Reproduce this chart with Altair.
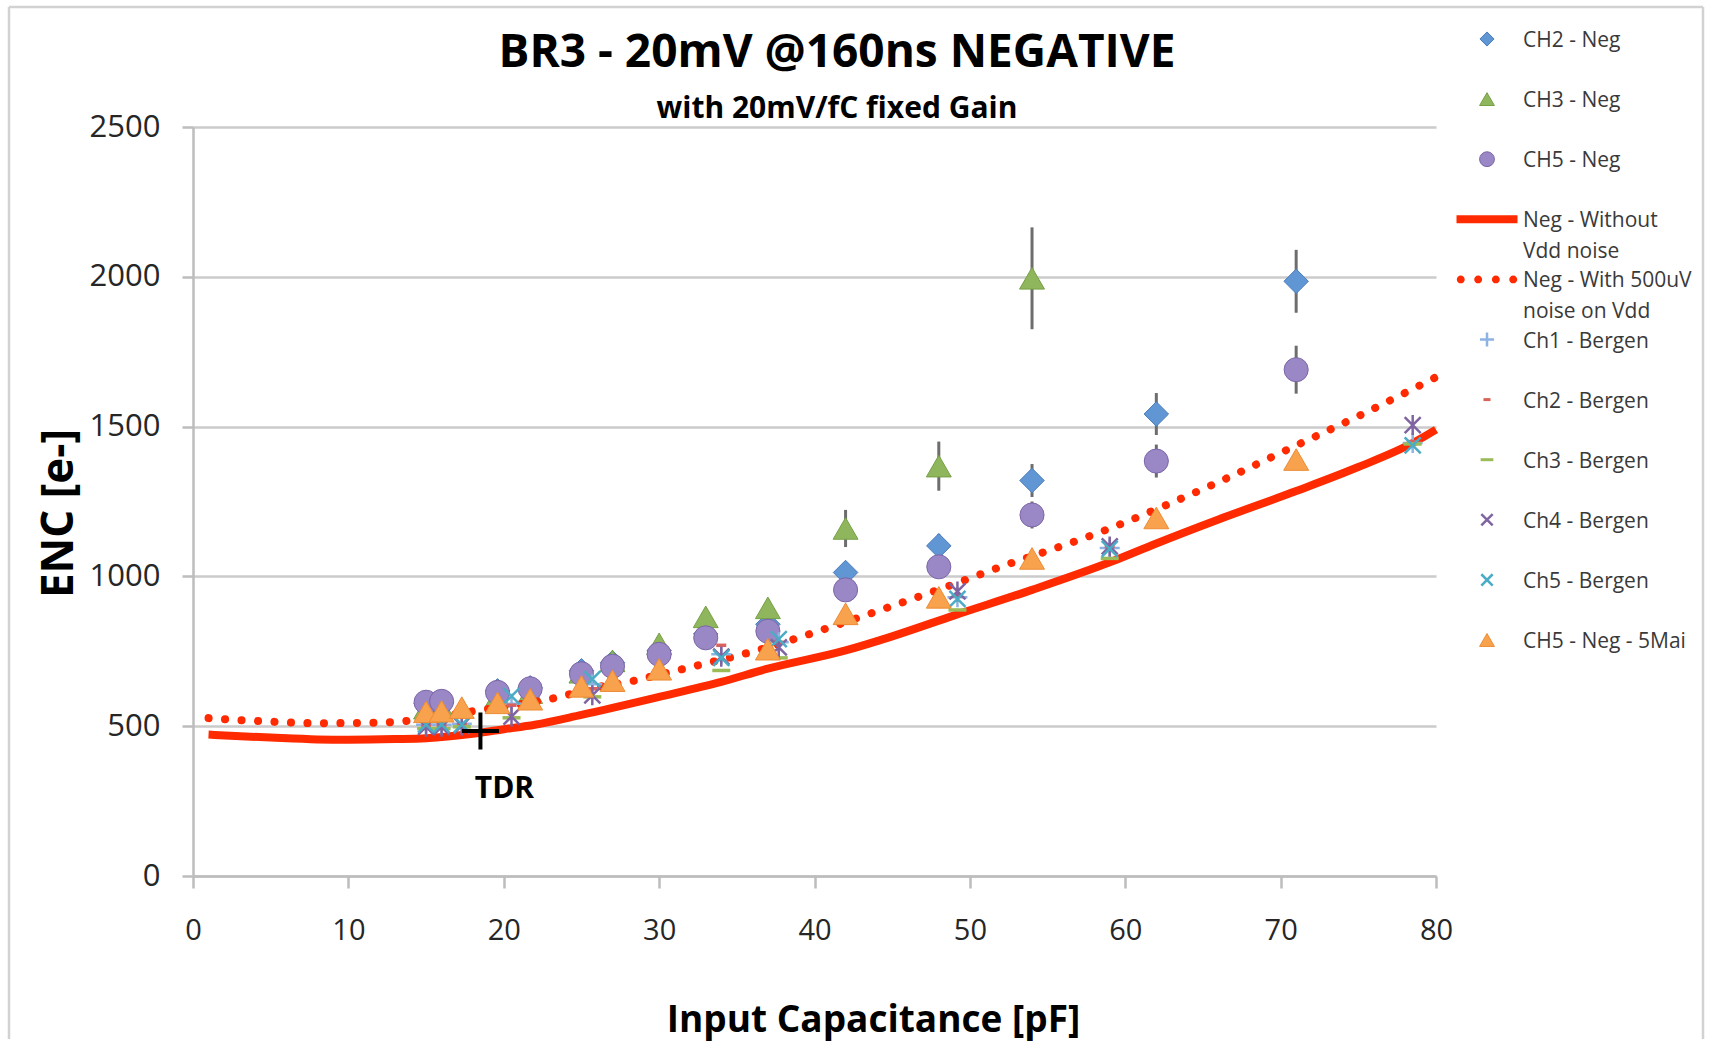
import altair as alt
import pandas as pd

# ---------------- data ----------------
x_neg = [15, 16, 19.6, 21.7, 25, 27, 30, 33, 37, 42, 48, 54, 62, 71]
ch2_neg = [575, 578, 618, 628, 685, 712, 752, 808, 840, 1013, 1102, 1320, 1542, 1985]
ch2_err = [15, 15, 18, 18, 20, 20, 22, 25, 30, 35, 40, 55, 70, 105]

x_ch3 = [15, 16, 19.6, 21.7, 25, 27, 30, 33, 37, 42, 48, 54]
ch3_neg = [560, 562, 600, 612, 680, 718, 775, 865, 895, 1160, 1368, 1995]
ch3_err = [15, 15, 18, 18, 20, 22, 25, 28, 30, 62, 82, 170]

ch5_neg = [580, 583, 613, 625, 675, 700, 740, 795, 817, 955, 1032, 1205, 1385, 1690]
ch5_err = [12, 12, 14, 14, 16, 16, 18, 20, 22, 28, 32, 45, 55, 80]

x_mai = [15, 16, 17.3, 19.6, 21.7, 25, 27, 30, 37, 42, 48, 54, 62, 71]
ch5_mai = [548, 550, 562, 578, 590, 633, 652, 690, 757, 875, 930, 1060, 1195, 1390]

x_bergen = [15, 16, 17.3, 20.5, 25.7, 34, 37.7, 49.2, 59, 78.5]
ch1_bergen = [505, 505, 508, 575, 640, 740, 780, 930, 1095, 1445]
ch2_bergen = [500, 500, 505, 570, 625, 770, 780, 935, 1100, 1450]
ch3_bergen = [492, 492, 498, 528, 598, 686, 728, 888, 1060, 1442]
ch4_bergen = [498, 498, 502, 532, 603, 732, 763, 950, 1100, 1505]
ch5_bergen = [505, 505, 505, 600, 657, 728, 791, 925, 1092, 1437]

x_without = [1, 5, 8, 10, 13, 15, 18, 20, 22, 25, 30, 34, 37, 42, 45, 49, 54, 59, 62, 66, 71, 75, 78.5, 80]
enc_without = [472, 462, 456, 455, 457, 460, 475, 490, 505, 538, 598, 648, 692, 753, 800, 870, 955, 1047, 1110, 1190, 1285, 1365, 1445, 1490]

x_with = [1, 5, 8, 12, 15, 18, 20, 23, 26, 28.4, 30, 32.5, 36.5, 40.7, 44.6, 48.7, 52.8, 55, 59, 62.5, 66, 71, 75, 80]
enc_with = [527, 515, 510, 512, 525, 550, 565, 591, 630, 652, 672, 703, 756, 825, 894, 969, 1047, 1085, 1160, 1235, 1315, 1437, 1535, 1665]

tdr_x = [18.5]
tdr_y = [484]
tdr_label = ["TDR"]

title_text = ["BR3 - 20mV @160ns NEGATIVE"]
subtitle_text = ["with 20mV/fC fixed Gain"]

legend_keys = ["ch2", "ch3", "ch5", "without", "with", "b1", "b2", "b3", "b4", "b5", "mai"]
legend_names = ["CH2 - Neg", "CH3 - Neg", "CH5 - Neg", "Neg - Without\nVdd noise",
                "Neg - With 500uV\nnoise on Vdd", "Ch1 - Bergen", "Ch2 - Bergen",
                "Ch3 - Bergen", "Ch4 - Bergen", "Ch5 - Bergen", "CH5 - Neg - 5Mai"]

x_ticks = [0, 10, 20, 30, 40, 50, 60, 70, 80]
y_ticks = [0, 500, 1000, 1500, 2000, 2500]

# ---------------- tables ----------------
df_ch2 = pd.DataFrame({"x": x_neg, "y": ch2_neg, "e": ch2_err})
df_ch3 = pd.DataFrame({"x": x_ch3, "y": ch3_neg, "e": ch3_err})
df_ch5 = pd.DataFrame({"x": x_neg, "y": ch5_neg, "e": ch5_err})
df_mai = pd.DataFrame({"x": x_mai, "y": ch5_mai})
df_b = {k: pd.DataFrame({"x": x_bergen, "y": v}) for k, v in
        [("b1", ch1_bergen), ("b2", ch2_bergen), ("b3", ch3_bergen), ("b4", ch4_bergen), ("b5", ch5_bergen)]}
df_without = pd.DataFrame({"x": x_without, "y": enc_without})
df_with = pd.DataFrame({"x": x_with, "y": enc_with})
df_tdr = pd.DataFrame({"x": tdr_x, "y": tdr_y, "label": tdr_label})
df_leg = pd.DataFrame({"key": legend_keys, "name": legend_names})
df_title = pd.DataFrame({"t": title_text})
df_sub = pd.DataFrame({"t": subtitle_text})
df_one = pd.DataFrame({"k": [0]})

FONT = "Open Sans"
xs = alt.Scale(domain=[0, 80], nice=False, zero=False)
ys = alt.Scale(domain=[0, 2500], nice=False, zero=True)

X_ax = alt.X("x:Q", scale=xs, axis=alt.Axis(
    values=x_ticks, title="Input Capacitance [pF]", grid=False, labelFlush=False,
    labelFontSize=29, labelPadding=28, titlePadding=57, tickSize=12, titleFontSize=37,
    titleX=680))
Y_ax = alt.Y("y:Q", scale=ys, axis=alt.Axis(
    values=y_ticks, format="d", title="ENC [e-]", grid=True, labelFontSize=31,
    labelPadding=22, titlePadding=8, tickSize=11, titleFontSize=44, titleY=386))
Xn = alt.X("x:Q", scale=xs, axis=None)
Yn = alt.Y("y:Q", scale=ys, axis=None)

ERR = "#6d6d6d"
RED = "#ff2a00"
PLUS = "M-1,0H1M0,-1V1"
DASH_S = "M-0.5,0H0.5"
DASH_L = "M-0.9,0H0.9"
XMARK = "M-0.8,-0.8L0.8,0.8M-0.8,0.8L0.8,-0.8"
STAR = "M-0.8,-0.8L0.8,0.8M-0.8,0.8L0.8,-0.8M0,-1V1"

C_CH2 = ("#6196d4", "#4a7dbb")
C_CH3 = ("#8fb65c", "#76a044")
C_CH5 = ("#9a87c6", "#7b66a6")
C_MAI = ("#f9a24d", "#ec8b33")
C_B1, C_B2, C_B3, C_B4, C_B5 = "#8db3e2", "#d9625c", "#9bbb59", "#8064a2", "#4bacc6"


def errbars(df):
    return alt.Chart(df).transform_calculate(
        lo="datum.y - datum.e", hi="datum.y + datum.e"
    ).mark_rule(color=ERR, strokeWidth=3).encode(
        x=Xn, y=alt.Y("lo:Q", scale=ys, axis=None), y2="hi:Q")


def filled(df, shape, fill, stroke, size=560):
    return alt.Chart(df).mark_point(shape=shape, filled=True, size=size, fill=fill,
                                    stroke=stroke, strokeWidth=1, opacity=1).encode(x=Xn, y=Yn)


def stroked(df, shape, color, size=400, sw=2.5):
    return alt.Chart(df).mark_point(shape=shape, filled=False, size=size, stroke=color,
                                    strokeWidth=sw, opacity=1).encode(x=Xn, y=Yn)


layers = [
    # solid line carries the axes
    alt.Chart(df_without).mark_line(color=RED, strokeWidth=8, interpolate="monotone").encode(x=X_ax, y=Y_ax),
    errbars(df_ch2),
    filled(df_ch2, "diamond", *C_CH2, size=600),
    errbars(df_ch3),
    filled(df_ch3, "triangle-up", *C_CH3, size=620),
    errbars(df_ch5),
    filled(df_ch5, "circle", *C_CH5, size=580),
    alt.Chart(df_with).mark_line(color=RED, strokeWidth=8, strokeDash=[0.1, 16.4], strokeCap="round",
                                 interpolate="monotone").encode(x=Xn, y=Yn),
    stroked(df_b["b1"], PLUS, C_B1),
    stroked(df_b["b2"], DASH_S, C_B2, sw=3.5),
    stroked(df_b["b3"], DASH_L, C_B3, sw=3.5),
    stroked(df_b["b4"], STAR, C_B4),
    stroked(df_b["b5"], XMARK, C_B5),
    filled(df_mai, "triangle-up", *C_MAI, size=620),
    alt.Chart(df_tdr).mark_point(shape=PLUS, filled=False, size=1369, stroke="black",
                                 strokeWidth=4, opacity=1).encode(x=Xn, y=Yn),
    alt.Chart(df_tdr).mark_text(font=FONT, fontSize=30, fontWeight="bold", color="black",
                                dx=24, dy=58).encode(x=Xn, y=Yn, text="label:N"),
]

# ---------------- legend (own point scale on the legend names) ----------------
Yl = alt.Y("name:N", scale=alt.Scale(type="point", domain=legend_names, range=[-88, 513], padding=0),
           axis=None)
LX = alt.value(1294)


def leg(key, mark):
    return alt.Chart(df_leg).transform_filter(alt.datum.key == key).mark_point(**mark).encode(x=LX, y=Yl)


def dots_path():
    r = 0.13
    parts = []
    for cx in [-0.86, -0.29, 0.29, 0.86]:
        parts.append(f"M{cx - r:.3f},0a{r},{r} 0 1,0 {2 * r:.3f},0a{r},{r} 0 1,0 {-2 * r:.3f},0Z")
    return "".join(parts)


layers += [
    leg("ch2", dict(shape="diamond", filled=True, size=200, fill=C_CH2[0], stroke=C_CH2[1], strokeWidth=1, opacity=1)),
    leg("ch3", dict(shape="triangle-up", filled=True, size=220, fill=C_CH3[0], stroke=C_CH3[1], strokeWidth=1, opacity=1)),
    leg("ch5", dict(shape="circle", filled=True, size=220, fill=C_CH5[0], stroke=C_CH5[1], strokeWidth=1, opacity=1)),
    leg("without", dict(shape="M-1,-0.13H1V0.13H-1Z", filled=True, size=3721, fill=RED, strokeWidth=0, opacity=1)),
    leg("with", dict(shape=dots_path(), filled=True, size=3721, fill=RED, strokeWidth=0, opacity=1)),
    leg("b1", dict(shape=PLUS, filled=False, size=200, stroke=C_B1, strokeWidth=2.5, opacity=1)),
    leg("b2", dict(shape=DASH_S, filled=False, size=200, stroke=C_B2, strokeWidth=3, opacity=1)),
    leg("b3", dict(shape=DASH_L, filled=False, size=200, stroke=C_B3, strokeWidth=3, opacity=1)),
    leg("b4", dict(shape=XMARK, filled=False, size=200, stroke=C_B4, strokeWidth=2.5, opacity=1)),
    leg("b5", dict(shape=XMARK, filled=False, size=200, stroke=C_B5, strokeWidth=2.5, opacity=1)),
    leg("mai", dict(shape="triangle-up", filled=True, size=220, fill=C_MAI[0], stroke=C_MAI[1], strokeWidth=1, opacity=1)),
    alt.Chart(df_leg).mark_text(font=FONT, fontSize=21, color="#3a3a3a", align="left", baseline="alphabetic",
                                dy=8, lineBreak="\n", lineHeight=31).encode(x=alt.value(1330), y=Yl, text="name:N"),
]

# ---------------- title texts and outer frame ----------------
FR = "#d2d2d2"
layers += [
    alt.Chart(df_title).mark_text(font=FONT, fontSize=46, fontWeight="bold", color="black",
                                  baseline="middle").encode(x=alt.value(644), y=alt.value(-74), text="t:N"),
    alt.Chart(df_sub).mark_text(font=FONT, fontSize=30, fontWeight="bold", color="black",
                                baseline="middle").encode(x=alt.value(644), y=alt.value(-18), text="t:N"),
    alt.Chart(df_one).mark_rule(color=FR, strokeWidth=2.5).encode(x=alt.value(-184), y=alt.value(-120), y2=alt.value(912)),
    alt.Chart(df_one).mark_rule(color=FR, strokeWidth=2.5).encode(x=alt.value(-184), x2=alt.value(1510), y=alt.value(-120)),
    alt.Chart(df_one).mark_rule(color=FR, strokeWidth=2.5).encode(x=alt.value(1510), y=alt.value(-120), y2=alt.value(912)),
]

chart = alt.layer(*layers).resolve_scale(x="independent", y="independent").properties(
    width=1243, height=749,
    padding={"left": 7, "top": 5, "right": 0, "bottom": 0},
).configure_view(stroke=None).configure_axis(
    labelFont=FONT, labelFontSize=30, labelColor="#262626",
    titleFont=FONT, titleFontSize=38, titleFontWeight="bold", titleColor="black",
    domainColor="#bdbdbd", domainWidth=2.5, tickColor="#bdbdbd", tickWidth=2.5,
    gridColor="#cbcbcb", gridWidth=2.5, labelOverlap=False,
)

chart.save("out.html", embed_options={"renderer": "svg", "actions": False})
